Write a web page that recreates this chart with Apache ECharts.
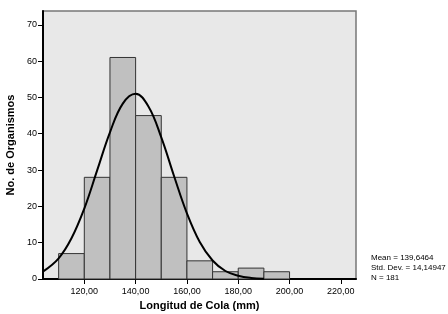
<!DOCTYPE html>
<html lang="es">
<head>
<meta charset="UTF-8">
<title>Longitud de Cola</title>
<script src="https://cdn.jsdelivr.net/npm/echarts@6/dist/echarts.min.js"></script>
<style>
  html, body { margin: 0; padding: 0; background: #fff; }
  #main { width: 448px; height: 314px; }
</style>
</head>
<body>
<div id="main"></div>
<script type="text/javascript">
// histograma: [desde, hasta, frecuencia]
var binStart = [110, 120, 130, 140, 150, 160, 170, 180, 190];
var binEnd   = [120, 130, 140, 150, 160, 170, 180, 190, 200];
var counts   = [7, 28, 61, 45, 28, 5, 2, 3, 2];
// curva normal
var curveX = [104, 110, 115, 120, 125, 130, 135, 140, 145, 150, 155, 160, 165, 170, 175, 180, 185, 190];
var curveY = [2.1, 5.7, 11.2, 19.4, 29.9, 40.4, 48.3, 51.0, 47.5, 39.0, 28.3, 18.1, 10.2, 5.1, 2.2, 0.9, 0.3, 0.1];
var xTicks = [120, 140, 160, 180, 200, 220];
var yTicks = [0, 10, 20, 30, 40, 50, 60, 70];
var statLines = ['Mean = 139,6464', 'Std. Dev. = 14,14947', 'N = 181'];

var font = 'Arial, "Liberation Sans", sans-serif';
var myChart = echarts.init(document.getElementById('main'), null, { renderer: 'canvas' });

var bars = [];
for (var i = 0; i < counts.length; i++) {
    bars.push([binStart[i], binEnd[i], counts[i]]);
}
var curve = [];
for (var j = 0; j < curveX.length; j++) {
    curve.push([curveX[j], curveY[j]]);
}

myChart.setOption({
    animation: false,
    backgroundColor: '#fff',
    grid: {
        left: 43, top: 11, right: 92, bottom: 35,
        outerBoundsMode: 'none',
        containLabel: false,
        show: true,
        backgroundColor: '#e8e8e8',
        borderColor: '#777',
        borderWidth: 1.5
    },
    xAxis: {
        type: 'value',
        min: 103.9,
        max: 225.9,
        name: 'Longitud de Cola (mm)',
        nameLocation: 'middle',
        nameGap: 21,
        nameTextStyle: { fontFamily: font, fontSize: 11, fontWeight: 'bold', color: '#000' },
        axisLine: { onZero: false, lineStyle: { color: '#000', width: 2 } },
        axisTick: { show: true, length: 5, customValues: xTicks, lineStyle: { color: '#000' } },
        axisLabel: {
            customValues: xTicks,
            fontFamily: font, fontSize: 9, color: '#000', margin: 8,
            formatter: function (v) { return v.toFixed(2).replace('.', ','); }
        },
        splitLine: { show: false }
    },
    yAxis: {
        type: 'value',
        min: 0,
        max: 73.8,
        name: 'No. de Organismos',
        nameLocation: 'middle',
        nameGap: 25,
        nameTextStyle: { fontFamily: font, fontSize: 11, fontWeight: 'bold', color: '#000' },
        axisLine: { show: true, lineStyle: { color: '#000', width: 2 } },
        axisTick: { show: true, length: 5, customValues: yTicks, lineStyle: { color: '#000' } },
        axisLabel: { customValues: yTicks, fontFamily: font, fontSize: 9, color: '#000', margin: 6 },
        splitLine: { show: false }
    },
    series: [{
        type: 'custom',
        data: bars,
        renderItem: function (params, api) {
            var p0 = api.coord([api.value(0), api.value(2)]);
            var p1 = api.coord([api.value(1), 0]);
            return {
                type: 'rect',
                shape: { x: p0[0], y: p0[1], width: p1[0] - p0[0], height: p1[1] - p0[1] },
                style: { fill: '#c0c0c0', stroke: '#333', lineWidth: 1 }
            };
        },
        encode: { x: [0, 1], y: 2 },
        z: 2
    }, {
        type: 'line',
        data: curve,
        smooth: 0.4,
        showSymbol: false,
        lineStyle: { color: '#000', width: 2 },
        z: 3
    }],
    graphic: [{
        type: 'text',
        left: 371,
        top: 253,
        style: {
            text: statLines.join('\n'),
            font: '8px ' + font,
            fill: '#000',
            lineHeight: 10
        }
    }]
});
</script>
</body>
</html>
